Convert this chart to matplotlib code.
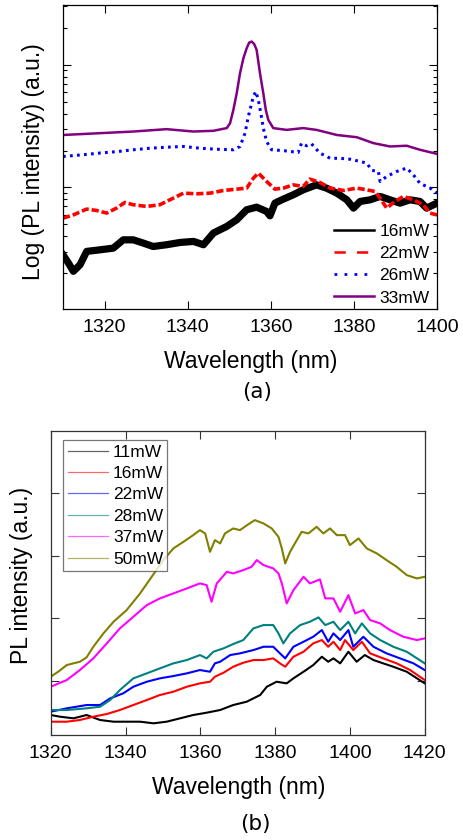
import matplotlib
matplotlib.use("Agg")
import matplotlib.pyplot as plt
import numpy as np

plt.rcParams['font.family'] = ['Liberation Sans', 'DejaVu Sans']

# ---------------- Panel (a): log PL spectra ----------------
a_labels = ["16mW", "22mW", "26mW", "33mW"]
a_colors = ["#000000", "#ff0000", "#0000ff", "#800080"]

wl_a16 = [1310.0, 1311.3, 1312.5, 1314.1, 1315.7, 1318.9, 1322.1, 1324.5, 1326.9, 1329.3,
          1331.7, 1334.9, 1338.2, 1341.4, 1343.8, 1346.2, 1349.4, 1351.8, 1354.2, 1356.6,
          1359.0, 1359.8, 1361.0, 1363.0, 1365.4, 1367.8, 1371.0, 1373.4, 1375.9, 1378.3,
          1379.9, 1381.5, 1383.9, 1386.3, 1388.7, 1391.1, 1393.5, 1395.9, 1397.5, 1400.0]
pl_a16 = [2.82, 2.42, 2.07, 2.34, 3.01, 3.10, 3.20, 3.74, 3.74, 3.52,
          3.30, 3.41, 3.56, 3.63, 3.41, 4.25, 4.81, 5.45, 6.58, 6.91,
          6.37, 5.87, 7.45, 8.03, 8.71, 9.57, 10.5, 9.88, 8.99, 7.93,
          6.79, 7.69, 7.93, 8.45, 7.93, 7.45, 7.93, 7.69, 6.79, 7.45]

wl_a22 = [1310.0, 1312.5, 1315.7, 1318.1, 1320.5, 1322.9, 1324.9, 1326.9, 1330.1, 1333.3,
          1335.7, 1339.0, 1342.2, 1345.4, 1348.6, 1351.8, 1354.2, 1355.8, 1357.0, 1359.0,
          1361.0, 1363.0, 1365.4, 1367.8, 1369.4, 1371.8, 1374.3, 1377.5, 1380.7, 1383.1,
          1385.1, 1386.3, 1387.9, 1389.9, 1391.9, 1394.3, 1396.7, 1398.3, 1400.0]
pl_a22 = [5.62, 5.98, 6.66, 6.49, 6.18, 6.79, 7.55, 7.23, 7.00, 7.23,
          7.93, 8.99, 8.88, 8.99, 9.45, 9.69, 9.88, 11.9, 13.1, 11.2,
          9.69, 9.88, 10.5, 10.2, 11.7, 11.0, 9.88, 9.45, 9.88, 9.57,
          9.27, 8.18, 6.79, 7.69, 8.45, 7.93, 7.23, 6.18, 5.98]

wl_a26 = [1310.0, 1314.9, 1318.9, 1322.9, 1326.9, 1330.9, 1334.9, 1339.0, 1343.0, 1347.0,
          1351.0, 1352.6, 1353.8, 1354.6, 1355.2, 1355.8, 1356.4, 1357.0, 1357.6, 1358.2,
          1359.0, 1360.2, 1363.0, 1366.6, 1367.4, 1368.6, 1369.8, 1371.8, 1374.3, 1376.7,
          1379.1, 1381.5, 1383.1, 1384.3, 1385.9, 1386.3, 1387.9, 1390.3, 1392.7, 1394.3,
          1395.9, 1398.3, 1400.0]
pl_a26 = [17.9, 18.5, 19.1, 19.6, 20.3, 20.9, 21.3, 21.6, 20.9, 20.5,
          20.3, 21.6, 27.7, 37.9, 45.7, 55.2, 60.7, 51.9, 40.4, 30.5,
          23.7, 20.3, 20.0, 19.3, 23.0, 21.9, 22.7, 19.1, 17.3, 17.3,
          17.0, 16.3, 15.8, 13.8, 13.5, 11.2, 12.3, 13.5, 14.4, 12.7,
          10.8, 9.9, 9.0]

wl_a33 = [1310.0, 1326.9, 1334.9, 1341.4, 1346.2, 1349.4, 1350.2, 1351.0, 1351.8, 1352.6,
          1353.4, 1354.2, 1354.8, 1355.4, 1356.0, 1356.6, 1357.4, 1358.2, 1358.8, 1359.4,
          1360.6, 1363.8, 1367.8, 1371.0, 1375.9, 1380.7, 1384.7, 1388.7, 1392.7, 1395.9,
          1400.0]
pl_a33 = [26.8, 28.6, 29.9, 28.6, 29.0, 30.5, 33.4, 43.0, 58.7, 85.5,
          113.0, 136.7, 152.0, 155.0, 148.0, 132.4, 85.5, 58.7, 43.0, 35.6,
          30.5, 29.5, 30.5, 29.5, 26.8, 25.7, 23.0, 21.6, 21.9, 20.3,
          18.8]

a_xticks = [1320, 1340, 1360, 1380, 1400]

# ---------------- Panel (b): linear PL spectra ----------------
b_labels = ["11mW", "16mW", "22mW", "28mW", "37mW", "50mW"]
b_colors = ["#000000", "#ff0000", "#0000ff", "#008080", "#ff00ff", "#808000"]

wl_b11 = [1320.0, 1322.5, 1326.1, 1329.6, 1333.2, 1336.8, 1340.3, 1343.9, 1347.5, 1351.0,
          1354.6, 1358.1, 1361.7, 1365.3, 1368.8, 1372.4, 1376.0, 1377.8, 1380.4, 1383.1,
          1384.9, 1387.6, 1390.2, 1392.5, 1394.2, 1395.6, 1397.4, 1399.6, 1401.8, 1404.0,
          1406.3, 1408.9, 1411.6, 1415.2, 1420.0]
pl_b11 = [448, 421, 395, 448, 368, 341, 341, 341, 315, 341,
          395, 448, 485, 528, 608, 661, 768, 901, 981, 955,
          1035, 1141, 1248, 1381, 1301, 1355, 1275, 1461, 1301, 1408,
          1328, 1275, 1221, 1141, 955]

wl_b16 = [1320.0, 1324.3, 1327.8, 1331.4, 1335.0, 1338.5, 1342.1, 1345.7, 1349.2, 1352.8,
          1356.4, 1359.9, 1362.6, 1363.9, 1366.2, 1368.8, 1371.5, 1374.2, 1376.9, 1379.5,
          1381.3, 1382.7, 1384.9, 1387.6, 1390.2, 1392.5, 1394.2, 1395.6, 1397.4, 1398.7,
          1400.9, 1403.2, 1405.4, 1408.9, 1412.5, 1416.1, 1420.0]
pl_b16 = [341, 341, 368, 421, 464, 528, 608, 688, 768, 821,
          901, 955, 981, 1061, 1125, 1221, 1285, 1328, 1328, 1355,
          1275, 1221, 1381, 1461, 1595, 1648, 1541, 1621, 1488, 1648,
          1488, 1621, 1435, 1355, 1275, 1168, 1008]

wl_b22 = [1320.0, 1324.3, 1329.6, 1333.2, 1335.9, 1339.4, 1342.1, 1345.7, 1349.2, 1352.8,
          1356.4, 1359.9, 1362.6, 1363.9, 1365.3, 1368.0, 1370.6, 1374.2, 1376.9, 1379.5,
          1381.3, 1382.7, 1384.9, 1387.6, 1390.2, 1392.5, 1394.2, 1395.6, 1397.4, 1399.6,
          1400.9, 1403.6, 1406.3, 1409.8, 1413.4, 1417.0, 1420.0]
pl_b22 = [501, 555, 608, 608, 715, 795, 901, 981, 1035, 1072,
          1115, 1168, 1141, 1275, 1301, 1408, 1435, 1488, 1541, 1541,
          1435, 1355, 1541, 1621, 1701, 1808, 1621, 1755, 1648, 1808,
          1541, 1701, 1541, 1435, 1355, 1275, 1168]

wl_b28 = [1320.0, 1324.3, 1329.6, 1333.2, 1335.9, 1338.5, 1342.1, 1345.7, 1349.2, 1352.8,
          1356.4, 1359.9, 1361.7, 1363.5, 1366.2, 1368.8, 1371.5, 1374.2, 1376.9, 1379.5,
          1380.9, 1382.2, 1384.0, 1386.7, 1389.3, 1391.6, 1393.4, 1395.6, 1397.4, 1399.6,
          1401.4, 1403.2, 1405.4, 1408.1, 1411.6, 1415.2, 1420.0]
pl_b28 = [528, 528, 555, 581, 688, 848, 1035, 1115, 1195, 1275,
          1328, 1408, 1355, 1461, 1515, 1584, 1648, 1835, 1888, 1888,
          1755, 1595, 1755, 1888, 1941, 2011, 1888, 1941, 1808, 1941,
          1755, 1915, 1755, 1648, 1541, 1461, 1275]

wl_b37 = [1320.0, 1324.3, 1327.8, 1331.4, 1335.0, 1338.5, 1342.1, 1345.7, 1349.2, 1352.8,
          1356.4, 1359.9, 1361.7, 1363.0, 1364.4, 1367.1, 1368.8, 1371.5, 1373.7, 1375.1,
          1376.9, 1379.5, 1380.9, 1381.8, 1383.1, 1384.9, 1387.6, 1389.3, 1392.0, 1393.4,
          1395.6, 1397.4, 1399.6, 1401.4, 1403.6, 1405.4, 1408.1, 1410.7, 1414.3, 1417.9,
          1420.0]
pl_b37 = [901, 1008, 1168, 1355, 1595, 1835, 2021, 2208, 2315, 2395,
          2475, 2555, 2528, 2261, 2555, 2741, 2715, 2768, 2821, 2928,
          2848, 2795, 2715, 2555, 2235, 2448, 2661, 2555, 2619, 2315,
          2315, 2101, 2368, 2075, 2128, 1968, 1915, 1808, 1701, 1648,
          1675]

wl_b50 = [1320.0, 1322.0, 1324.3, 1327.8, 1329.6, 1331.4, 1334.1, 1336.8, 1340.3, 1343.9,
          1347.5, 1350.1, 1352.8, 1355.5, 1358.1, 1359.9, 1361.3, 1362.6, 1363.9, 1365.3,
          1366.6, 1368.8, 1370.6, 1372.9, 1374.6, 1376.9, 1379.1, 1380.9, 1381.8, 1382.7,
          1384.0, 1385.8, 1387.1, 1388.9, 1391.1, 1392.9, 1394.7, 1396.5, 1398.7, 1400.0,
          1402.3, 1404.5, 1407.2, 1409.8, 1412.5, 1415.2, 1417.9, 1420.0]
pl_b50 = [1061, 1141, 1248, 1301, 1371, 1541, 1755, 1941, 2128, 2395,
          2704, 2928, 3115, 3221, 3328, 3408, 3355, 3061, 3248, 3195,
          3355, 3435, 3408, 3504, 3568, 3515, 3435, 3301, 3115, 2875,
          3061, 3248, 3381, 3355, 3461, 3355, 3435, 3328, 3328, 3168,
          3275, 3115, 3035, 2928, 2821, 2688, 2635, 2661]

b_xticks = [1320, 1340, 1360, 1380, 1400, 1420]
b_yticks = [1000, 2000, 3000, 4000]

# ---------------- figure ----------------
W, H = 463, 840
fig = plt.figure(figsize=(W / 100, H / 100), dpi=100)

def px_axes(l, t, r, b):
    return fig.add_axes([l / W, 1 - b / H, (r - l) / W, (b - t) / H])

# ---- panel (a)
ax1 = px_axes(63, 5, 437, 309)
a_series = [(wl_a16, pl_a16), (wl_a22, pl_a22), (wl_a26, pl_a26), (wl_a33, pl_a33)]
a_styles = [dict(lw=5.2, ls='-'), dict(lw=2.6, ls=(0, (2.0, 0.8))),
            dict(lw=2.2, ls=(0, (0.9, 1.4))), dict(lw=1.8, ls='-')]
for (x, y), lab, c, st in zip(a_series, a_labels, a_colors, a_styles):
    ax1.plot(x, y, color=c, label=lab, solid_joinstyle='round', **st)
ax1.set_yscale('log')
ax1.set_xlim(1310, 1400)
ax1.set_ylim(1.02, 308)
ax1.set_xticks(a_xticks)
ax1.tick_params(axis='both', which='both', direction='in', top=True, right=True,
                labelsize=14)
ax1.tick_params(axis='both', which='major', length=6, width=0.8, pad=7)
ax1.tick_params(axis='y', which='minor', length=3, width=0.8)
ax1.yaxis.set_major_formatter(matplotlib.ticker.NullFormatter())
ax1.yaxis.set_minor_formatter(matplotlib.ticker.NullFormatter())
ax1.set_xlabel("Wavelength (nm)", fontsize=16.5)
ax1.set_ylabel("Log (PL intensity) (a.u.)", fontsize=16.5)
ax1.xaxis.set_label_coords(0.501, -0.172)
ax1.xaxis.label.set_va('center')
ax1.yaxis.set_label_coords(-0.080, 0.485)
ax1.yaxis.label.set_va('center')
for s in ax1.spines.values():
    s.set_linewidth(0.9)
leg1 = ax1.legend(loc='lower right', bbox_to_anchor=(0.99, 0.0), frameon=False,
                  fontsize=12.5, handlelength=2.3, handletextpad=0.3,
                  labelspacing=0.4, borderpad=0.2, borderaxespad=0.0)
leg_lines = leg1.get_lines()
leg_lines[0].set_linewidth(1.8)
leg_lines[1].set_linewidth(1.8)
leg_lines[1].set_dashes([4.5, 4.5])
leg_lines[2].set_linewidth(2.0)
leg_lines[2].set_dashes([1.0, 2.6])

fig.text(257 / W, 1 - 392 / H, "(a)", ha='center', va='center', fontsize=15.5,
         family=['DejaVu Sans'])

# ---- panel (b)
ax2 = px_axes(50.7, 430.7, 424.7, 735)
b_series = [(wl_b11, pl_b11), (wl_b16, pl_b16), (wl_b22, pl_b22),
            (wl_b28, pl_b28), (wl_b37, pl_b37), (wl_b50, pl_b50)]
for (x, y), lab, c in zip(b_series, b_labels, b_colors):
    ax2.plot(x, y, color=c, label=lab, lw=1.5)
ax2.set_xlim(1320, 1420)
ax2.set_ylim(128, 5000)
ax2.set_xticks(b_xticks)
ax2.set_yticks(b_yticks)
ax2.yaxis.set_major_formatter(matplotlib.ticker.NullFormatter())
ax2.tick_params(axis='both', which='both', direction='in', top=True, right=True,
                labelsize=14, length=6, width=0.8, pad=7, color='#333333')
ax2.set_xlabel("Wavelength (nm)", fontsize=16.5)
ax2.set_ylabel("PL intensity (a.u.)", fontsize=16.5)
ax2.xaxis.set_label_coords(0.502, -0.172)
ax2.xaxis.label.set_va('center')
ax2.yaxis.set_label_coords(-0.079, 0.526)
ax2.yaxis.label.set_va('center')
for s in ax2.spines.values():
    s.set_linewidth(0.9)
    s.set_color('#333333')
leg2 = ax2.legend(loc='upper left', bbox_to_anchor=(0.034, 0.969), frameon=True,
                  fontsize=12.5, handlelength=2.3, handletextpad=0.3,
                  labelspacing=0.36, borderpad=0.25, borderaxespad=0.0,
                  fancybox=False)
leg2.get_frame().set_edgecolor('#555555')
leg2.get_frame().set_linewidth(0.9)
for ln in leg2.get_lines():
    ln.set_linewidth(0.9)
    ln.set_alpha(0.6)

fig.text(255 / W, 1 - 824 / H, "(b)", ha='center', va='center', fontsize=15.5,
         family=['DejaVu Sans'])

fig.savefig("out.png", dpi=100)
